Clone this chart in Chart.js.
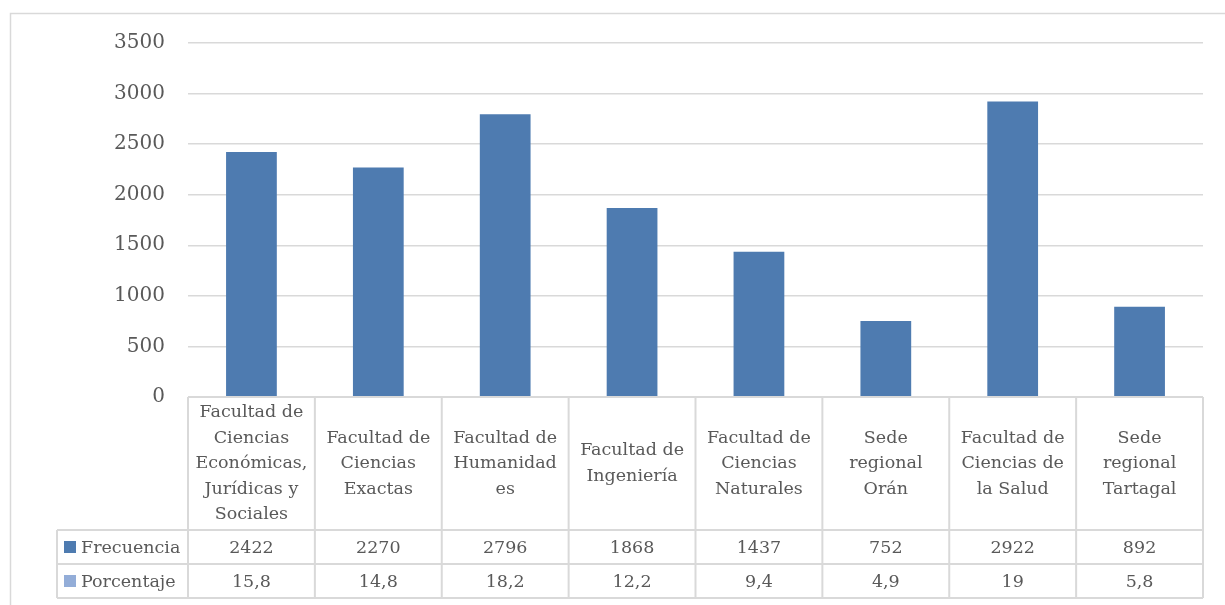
<!DOCTYPE html>
<html>
<head>
<meta charset="utf-8">
<script src="https://cdn.jsdelivr.net/npm/chart.js@4.4.1/dist/chart.umd.min.js"></script>
<style>
  html, body { margin: 0; padding: 0; background: #fff; }
  #wrap { width: 1225px; height: 605px; position: relative; }
</style>
</head>
<body>
<div id="wrap"><canvas id="grafico"></canvas></div>
<script>
// Datos
const facultades = [
  ["Facultad de", "Ciencias", "Económicas,", "Jurídicas y", "Sociales"],
  ["Facultad de", "Ciencias", "Exactas"],
  ["Facultad de", "Humanidad", "es"],
  ["Facultad de", "Ingeniería"],
  ["Facultad de", "Ciencias", "Naturales"],
  ["Sede", "regional", "Orán"],
  ["Facultad de", "Ciencias de", "la Salud"],
  ["Sede", "regional", "Tartagal"]
];
const frecuencia = [2422, 2270, 2796, 1868, 1437, 752, 2922, 892];
const porcentaje = ["15,8", "14,8", "18,2", "12,2", "9,4", "4,9", "19", "5,8"];
const ticksY = [0, 500, 1000, 1500, 2000, 2500, 3000, 3500];

const FUENTE = "'DejaVu Serif', 'Liberation Serif', serif";
const GRIS_TEXTO = "#595959";
const GRIS_LINEA = "#d9d9d9";

// marco exterior (solo bordes superior e izquierdo visibles)
const marco = {
  id: "marco",
  beforeDraw(chart) {
    const ctx = chart.ctx;
    ctx.save();
    ctx.strokeStyle = GRIS_LINEA;
    ctx.lineWidth = 1.5;
    ctx.beginPath();
    ctx.moveTo(10.5, chart.height);
    ctx.lineTo(10.5, 13.5);
    ctx.lineTo(chart.width, 13.5);
    ctx.stroke();
    ctx.restore();
  }
};

// tabla de datos debajo del eje
const tablaDatos = {
  id: "tablaDatos",
  afterDraw(chart) {
    const ctx = chart.ctx;
    const area = chart.chartArea;
    const x = chart.scales.x;
    const n = chart.data.labels.length;
    const media = (area.right - area.left) / n / 2;
    const top = area.bottom;
    const finCab = top + 133;
    const altoFila = 34;
    const fin = finCab + altoFila * 2;
    const izqLeyenda = 57;

    ctx.save();
    ctx.strokeStyle = GRIS_LINEA;
    ctx.lineWidth = 2;
    ctx.beginPath();
    ctx.moveTo(area.left, top); ctx.lineTo(area.right, top);
    [finCab, finCab + altoFila, fin].forEach(yy => {
      ctx.moveTo(izqLeyenda, yy); ctx.lineTo(area.right, yy);
    });
    ctx.moveTo(izqLeyenda, finCab); ctx.lineTo(izqLeyenda, fin);
    for (let i = 0; i <= n; i++) {
      const xx = i < n ? x.getPixelForValue(i) - media : x.getPixelForValue(n - 1) + media;
      ctx.moveTo(xx, top); ctx.lineTo(xx, fin);
    }
    ctx.stroke();

    ctx.fillStyle = GRIS_TEXTO;
    ctx.textAlign = "center";
    ctx.textBaseline = "middle";
    ctx.font = "17.5px " + FUENTE;
    const centroCab = (top + finCab) / 2;
    chart.data.labels.forEach((lineas, i) => {
      const cx = x.getPixelForValue(i);
      const y0 = centroCab - (lineas.length - 1) * 25.5 / 2;
      lineas.forEach((t, j) => ctx.fillText(t, cx, y0 + j * 25.5));
    });

    ctx.font = "17.5px " + FUENTE;
    chart.data.datasets.forEach((ds, f) => {
      const cy = finCab + altoFila * f + altoFila / 2;
      ds.tabla.forEach((v, i) => ctx.fillText(v, x.getPixelForValue(i), cy + 1));
      ctx.fillStyle = ds.backgroundColor;
      ctx.fillRect(64, cy - 6, 12, 12);
      ctx.fillStyle = GRIS_TEXTO;
      ctx.textAlign = "left";
      ctx.fillText(ds.label, 81, cy + 1);
      ctx.textAlign = "center";
    });
    ctx.restore();
  }
};

new Chart(document.getElementById("grafico"), {
  type: "bar",
  data: {
    labels: facultades,
    datasets: [
      {
        label: "Frecuencia",
        data: frecuencia,
        tabla: frecuencia.map(String),
        backgroundColor: "#4e7bb0",
        categoryPercentage: 1,
        barPercentage: 0.4
      },
      {
        label: "Porcentaje",
        data: porcentaje.map(v => parseFloat(v.replace(",", "."))),
        tabla: porcentaje,
        backgroundColor: "#93add8",
        hidden: true
      }
    ]
  },
  options: {
    responsive: true,
    maintainAspectRatio: false,
    animation: false,
    layout: { padding: { left: 0, right: 22, top: 43, bottom: 208 } },
    plugins: { legend: { display: false }, tooltip: { enabled: false } },
    scales: {
      x: { display: false },
      y: {
        min: 0,
        max: 3500,
        afterBuildTicks: s => { s.ticks = ticksY.map(v => ({ value: v })); },
        afterFit: s => { s.width = 188; },
        border: { display: false },
        grid: { color: GRIS_LINEA, lineWidth: 1.5, drawTicks: false },
        ticks: {
          color: GRIS_TEXTO,
          font: { family: FUENTE, size: 20 },
          padding: 23,
          callback: v => String(v)
        }
      }
    }
  },
  plugins: [marco, tablaDatos]
});
</script>
</body>
</html>
